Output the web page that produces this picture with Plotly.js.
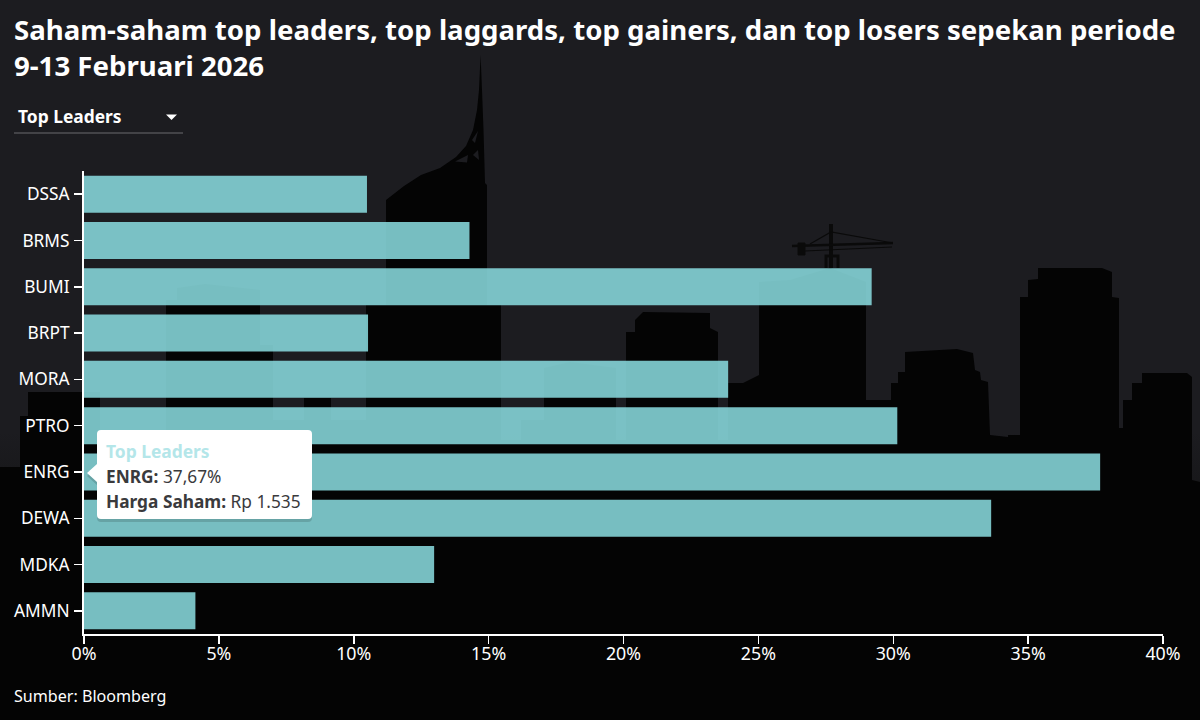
<!DOCTYPE html>
<html><head><meta charset="utf-8">
<script src="https://cdn.plot.ly/plotly-3.0.1.min.js"></script>
<style>
html,body{margin:0;padding:0;width:1200px;height:720px;overflow:hidden;background:#1c1c20}
#bg{position:absolute;left:0;top:0;width:1200px;height:720px}
#chart{position:absolute;left:0;top:0;width:1200px;height:720px}
</style></head><body>
<svg id="bg" viewBox="0 0 1200 720" xmlns="http://www.w3.org/2000/svg">
<defs><linearGradient id="fade" x1="0" y1="0" x2="0" y2="1">
<stop offset="0" stop-color="#1c1c20"/><stop offset="0.6" stop-color="#1c1c20"/><stop offset="0.7" stop-color="#161618"/><stop offset="1" stop-color="#000"/></linearGradient></defs>
<rect width="1200" height="720" fill="url(#fade)"/>
<g fill="#040404">
<path d="M0 720V467H20V416H28V392L100 392V440L166 440V300L177 300V288L205 284L260 290V345L273 345V420L304 420V398L331 398V420L366 420V305L386 305V200L404 186L421 175L440 168L456 157L466 146L473 130L477 110L479 90L480.6 55L482 90L483.5 130L485 183L487 185V305L501 305V440L521 440V420L544 420V368L570 362L616 368V440L626 440V332L635 332V320L643 312L710 313V328L718 332V440L728 440V383L743 383L759 375V282L790 280L830 268L866 282V400L891 400V383L898 383V372L905 372V352L957 349L973 353L975 370L980 372L981 380L988 382L990 435L1008 437V435L1020 435V297L1028 297V280L1038 279V268L1102 268L1112 272V297L1119 298V428L1123 428V400L1132 400V383L1142 383V373L1187 373L1192 377V480L1200 482V720Z"/>
</g>
<g fill="#1c1c20">
<path d="M455 161.6L468 155L467 162.6Z"/>
<path d="M472 140L478 131L475 143Z"/>
<path d="M473 155L478 150L479 160Z"/>
</g>
<g stroke="#0a0a0a" fill="none">
<path d="M831 224V268" stroke-width="4"/>
<path d="M826 268V256H838V268" stroke-width="3"/>
<path d="M792 246L893 243" stroke-width="2.4"/>
<path d="M805 251L892 247M810 244L831 232L893 243" stroke-width="1.2"/>
<path d="M798 243H805V255H798Z" fill="#0a0a0a" stroke-width="1"/>
</g>
</svg>
<div id="chart"></div>
<script>
// Data
var tickers = ["DSSA","BRMS","BUMI","BRPT","MORA","PTRO","ENRG","DEWA","MDKA","AMMN"];
var gains = [10.49,14.29,29.2,10.53,23.88,30.15,37.67,33.63,12.98,4.13];
var xTicks = [0,5,10,15,20,25,30,35,40];
var menuLabel = "Top Leaders";
var tipTicker = "ENRG";
var tipPrice = "Rp 1.535";
var sourceText = "Sumber: Bloomberg";
var titleText = "Saham-saham top leaders, top laggards, top gainers, dan top losers sepekan periode<br>9-13 Februari 2026";

var FONT = '"Noto Sans", sans-serif';
var L=84,R=1163,T=171,B=634;
function px(x){return (x-L)/(R-L);}
function py(y){return (B-y)/(B-T);}
function path(pts){
  return pts.map(function(p){
    if(p[0]==='Q') return 'Q'+px(p[1])+' '+py(p[2])+' '+px(p[3])+' '+py(p[4]);
    return p[0]+px(p[1])+' '+py(p[2]);
  }).join(' ')+' Z';
}
function tipShape(dx,dy){
  var x0=97+dx,x1=312+dx,y0=430+dy,y1=519+dy,r=4;
  return path([['M',x0+r,y0],['L',x1-r,y0],['Q',x1,y0,x1,y0+r],['L',x1,y1-r],['Q',x1,y1,x1-r,y1],
    ['L',x0+r,y1],['Q',x0,y1,x0,y1-r],['L',x0,482+dy],['L',87+dx,473+dy],['L',x0,464+dy],['L',x0,y0+r],['Q',x0,y0,x0+r,y0]]);
}
function ann(x,y,text,size,color){
  return {xref:'paper',yref:'paper',x:px(x),y:py(y),text:text,showarrow:false,xanchor:'left',yanchor:'middle',
    align:'left',font:{family:FONT,size:size,color:color}};
}
var idx=tickers.indexOf(tipTicker);
var tipVal=gains[idx].toFixed(2).replace('.',',')+'%';

var trace={type:'bar',orientation:'h',y:tickers,x:gains,width:0.8,
  marker:{color:'rgba(136,216,220,0.88)',line:{width:0}},hoverinfo:'none'};
var layout={
  width:1200,height:720,autosize:false,
  paper_bgcolor:'rgba(0,0,0,0)',plot_bgcolor:'rgba(0,0,0,0)',
  margin:{l:L,r:1200-R,t:T,b:720-B,pad:0},
  showlegend:false,
  title:{text:titleText,x:14/1200,xanchor:'left',xref:'container',y:1-40/720,yanchor:'top',
    font:{family:FONT,size:27.6,color:'#fff',weight:700}},
  xaxis:{range:[0,40],tickvals:xTicks,ticktext:xTicks.map(function(v){return v+'%';}),
    showgrid:false,zeroline:false,showline:true,linecolor:'#fff',linewidth:2,
    ticks:'outside',ticklen:8,tickwidth:1.5,tickcolor:'#fff',ticklabelstandoff:-5,
    tickfont:{family:FONT,size:17.8,color:'#fff'},fixedrange:true},
  yaxis:{type:'category',categoryorder:'array',categoryarray:tickers,autorange:false,range:[9.5,-0.5],
    showgrid:false,zeroline:false,showline:true,linecolor:'#fff',linewidth:2,
    ticks:'outside',ticklen:8,tickwidth:1.5,tickcolor:'#fff',ticklabelstandoff:1,
    tickfont:{family:FONT,size:17.3,color:'#fff'},fixedrange:true},
  shapes:[
    {type:'line',xref:'paper',yref:'paper',x0:px(14),x1:px(183),y0:py(133),y1:py(133),line:{color:'#6a6a6e',width:1}},
    {type:'path',xref:'paper',yref:'paper',path:path([['M',166,114.5],['L',177,114.5],['L',171.5,120]]),fillcolor:'#fff',line:{width:0}},
    {type:'path',xref:'paper',yref:'paper',path:tipShape(0,3),fillcolor:'rgba(0,0,0,0.14)',line:{width:0},layer:'above'},
    {type:'path',xref:'paper',yref:'paper',path:tipShape(0,0),fillcolor:'#fff',line:{width:0},layer:'above'}
  ],
  annotations:[
    ann(16,116,'<b>'+menuLabel+'</b>',17.4,'#fff'),
    ann(12,696,sourceText,16.1,'#fff'),
    ann(104,451,'<b>'+menuLabel+'</b>',17.4,'#b4e6e9'),
    ann(104,476,'<b>'+tipTicker+':</b> '+tipVal,17.3,'#3a3a3c'),
    ann(104,501,'<b>Harga Saham:</b> '+tipPrice,17.3,'#3a3a3c')
  ]
};
Plotly.newPlot('chart',[trace],layout,{displayModeBar:false,staticPlot:true});
</script>
</body></html>
